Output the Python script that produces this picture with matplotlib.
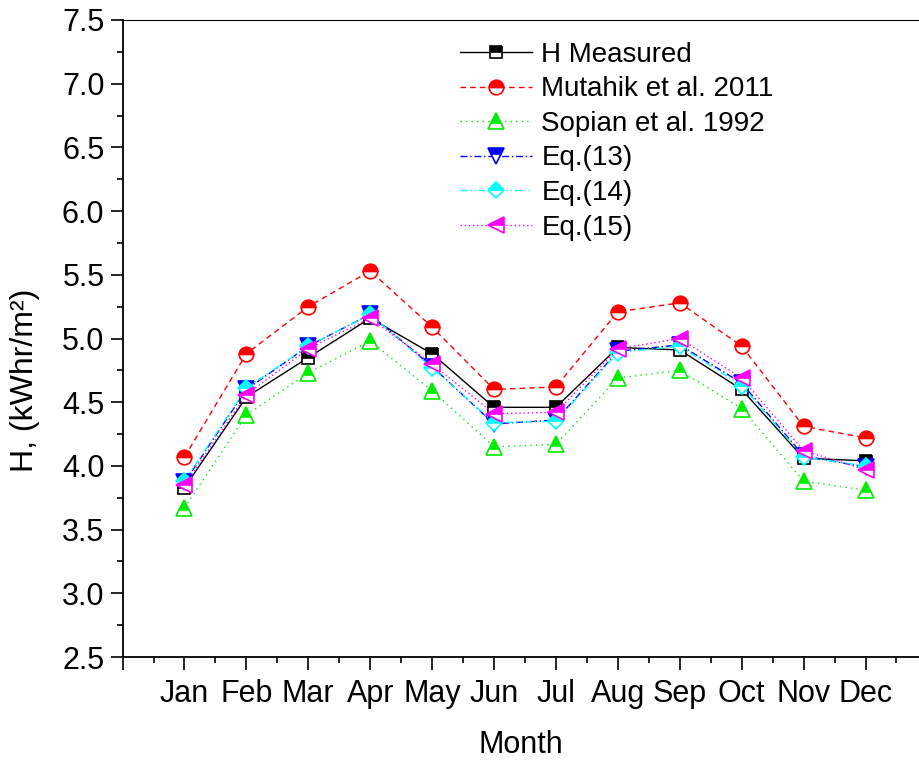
import matplotlib
matplotlib.use("Agg")
import matplotlib.pyplot as plt
from matplotlib.ticker import MultipleLocator, FixedLocator

plt.rcParams['font.family'] = ['Liberation Sans', 'DejaVu Sans']

months = ['Jan', 'Feb', 'Mar', 'Apr', 'May', 'Jun',
          'Jul', 'Aug', 'Sep', 'Oct', 'Nov', 'Dec']
h_measured = [3.83, 4.54, 4.85, 5.16, 4.88, 4.46, 4.46, 4.93, 4.91, 4.60, 4.06, 4.04]
mutahik_2011 = [4.07, 4.88, 5.25, 5.53, 5.09, 4.60, 4.62, 5.21, 5.28, 4.94, 4.31, 4.22]
sopian_1992 = [3.67, 4.40, 4.73, 4.98, 4.59, 4.15, 4.17, 4.69, 4.75, 4.45, 3.88, 3.81]
eq13 = [3.87, 4.60, 4.94, 5.19, 4.78, 4.33, 4.36, 4.90, 4.95, 4.65, 4.08, 3.99]
eq14 = [3.88, 4.61, 4.94, 5.19, 4.77, 4.34, 4.35, 4.89, 4.94, 4.63, 4.07, 4.00]
eq15 = [3.85, 4.56, 4.92, 5.16, 4.80, 4.41, 4.42, 4.92, 5.00, 4.69, 4.12, 3.97]

series_labels = ['H Measured', 'Mutahik et al. 2011', 'Sopian et al. 1992',
                 'Eq.(13)', 'Eq.(14)', 'Eq.(15)']

x = list(range(1, len(months) + 1))

fig = plt.figure(figsize=(9.2, 7.6), dpi=100)
ax = fig.add_axes([0.1332, 0.1355, 0.8668, 0.8382])

styles = [
    dict(color='black', ls='-', marker='s', ms=8.5),
    dict(color='#ff0000', ls=(0, (4, 3)), marker='o', ms=10.5),
    dict(color='#00ee00', ls=(0, (1, 3)), marker='^', ms=11),
    dict(color='#0000ff', ls=(0, (5, 2, 1, 2)), marker='v', ms=11),
    dict(color='#00ffff', ls=(0, (5, 2, 1, 2, 1, 2)), marker='D', ms=8),
    dict(color='#ff00ff', ls=(0, (1, 2)), marker='<', ms=11),
]
data = [h_measured, mutahik_2011, sopian_1992, eq13, eq14, eq15]

for y, lab, st in zip(data, series_labels, styles):
    ax.plot(x, y, linestyle=st['ls'], color=st['color'], lw=1.0,
            marker=st['marker'], markersize=st['ms'],
            fillstyle='top', markerfacecolor=st['color'],
            markerfacecoloralt='white', markeredgecolor=st['color'],
            markeredgewidth=1.2, label=lab)

ax.set_xlim(0, 12.88)
ax.set_ylim(2.5, 7.5)

ax.xaxis.set_major_locator(FixedLocator(list(range(0, 13))))
ax.set_xticklabels([''] + months)
ax.xaxis.set_minor_locator(FixedLocator([i + 0.5 for i in range(0, 13)]))
ax.yaxis.set_major_locator(MultipleLocator(0.5))
ax.yaxis.set_minor_locator(MultipleLocator(0.25))
ax.yaxis.set_major_formatter(plt.FuncFormatter(lambda v, p: f'{v:.1f}'))

ax.tick_params(which='major', direction='out', length=9, width=1.2,
               labelsize=22, pad=4)
ax.tick_params(which='minor', direction='out', length=4.5, width=1.2)
ax.tick_params(axis='x', which='major', pad=7)

for side in ['left', 'bottom']:
    ax.spines[side].set_linewidth(1.3)
ax.spines['top'].set_linewidth(0.8)
ax.spines['right'].set_visible(False)

ax.set_xlabel('Month', fontsize=22, labelpad=15)
ax.set_ylabel('H, (kWhr/m²)', fontsize=23)
ax.yaxis.set_label_coords(-0.104, 0.435)

ax.legend(loc='upper left', bbox_to_anchor=(0.423, 0.966), frameon=False,
          fontsize=20, borderpad=0, borderaxespad=0, handlelength=2.6,
          handletextpad=0.33, labelspacing=0.31, numpoints=1)

fig.savefig('out.png', dpi=100)
